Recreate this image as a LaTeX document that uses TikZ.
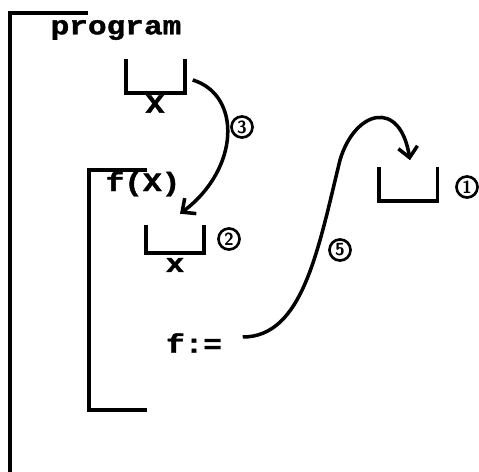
\documentclass[tikz,border=0pt]{standalone}
\usepackage{fontspec}
\newfontfamily\codefont{Liberation Mono}[FakeStretch=1.18, FakeBold=1.5]
\usetikzlibrary{arrows.meta}
\tikzset{
  lbl/.style={font=\codefont\bfseries\fontsize{15}{15}\selectfont, inner sep=0pt},
  slot/.style={minimum width=1.1cm, inner sep=0pt},
  num/.style={circle, draw, line width=1.5pt, minimum size=12pt, inner sep=0pt, font=\sffamily\bfseries},
  >={Straight Barb[length=6pt,width=11pt]}
}
\begin{document}
\begin{tikzpicture}[x=0.02cm, y=-0.02cm, line width=2pt]
	\useasboundingbox (0,0) rectangle (479,472);
	% frames
	\draw (88,13) -- (10,13) -- (10,472);
	\draw (147,170) -- (89,170) -- (89,410) -- (147,410);
	\node[lbl] (prog) at (116,30) {program};
	\node[lbl] (fx) at (143,184) {f(X)};
	\node[lbl] (assign) at (194,343) {f:=};
	
	% slots
	\node[slot, minimum height=0.6cm] (slotX) at (155.5,76) {};
	\node[slot, minimum height=0.5cm] (slotx) at (175,239) {};
	\node[slot, minimum height=0.6cm] (slotf) at (408,184) {};
	\foreach \s in {slotX,slotx,slotf}
		\draw (\s.north west) |- (\s.south east) -- (\s.north east);
	\node[lbl] (nameX) at (155,104) {X};
	\node[lbl] (namex) at (175,265) {x};
	
	% arrows
	\draw[->] ([shift={(8,4)}]slotX.east) .. controls +(49,15) and +(60,-45) .. ([shift={(5,-11)}]slotx.north);
	\draw[->] ([shift={(19,-6)}]assign.east) .. controls +(60,0) and +(-22,90) .. (340,160)
		.. controls +(15,-50) and +(-10,-62) .. ([shift={(2,-7)}]slotf.north);
	
	\node[num] (n3) at (242,127) {3};
	\node[num] (n2) at (229,239) {2};
	\node[num] (n1) at (467,187) {1};
	\node[num] (n5) at (340,250) {5};
\end{tikzpicture}
\end{document}
